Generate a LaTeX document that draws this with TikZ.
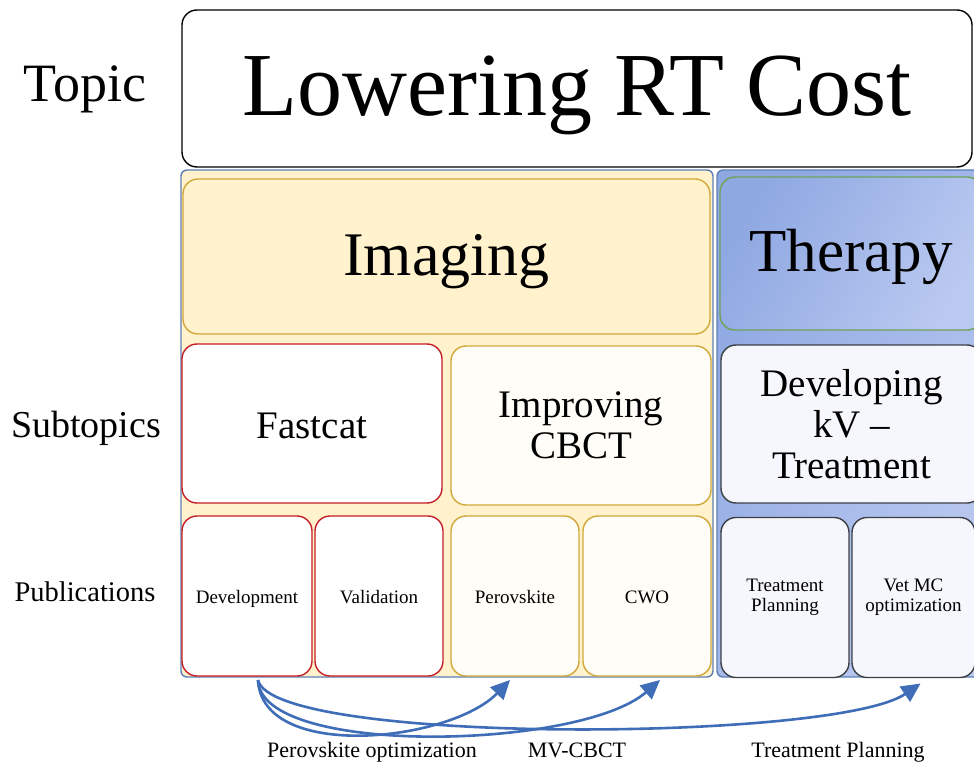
\documentclass[tikz,border=0pt]{standalone}
\usepackage{fontspec}
\setmainfont{Liberation Serif}
\usetikzlibrary{arrows.meta}
\definecolor{imgfill}{HTML}{FFF2CC}
\definecolor{goldline}{HTML}{D1A838}
\definecolor{outerblue}{HTML}{5C7FB5}
\definecolor{redline}{HTML}{C41E26}
\definecolor{goldfill}{HTML}{FFFDF7}
\definecolor{darkline}{HTML}{3C3F44}
\definecolor{kvfill}{HTML}{F6F7FD}
\definecolor{greenline}{HTML}{6FA35A}
\definecolor{thdark}{HTML}{8EA8E2}
\definecolor{thlight}{HTML}{BAC9F0}
\definecolor{arrowblue}{HTML}{3F6DB8}
\tikzset{
  boxbase/.style={draw, line width=1.4pt, inner sep=0pt, outer sep=0pt, align=center, rounded corners=15pt},
  outerbox/.style={draw=outerblue, line width=1.4pt, inner sep=0pt, outer sep=0pt, rounded corners=6pt},
  redbox/.style={boxbase, draw=redline, fill=white},
  goldbox/.style={boxbase, draw=goldline, fill=goldfill},
  darkbox/.style={boxbase, draw=darkline, fill=kvfill},
  subfont/.style={font=\fontsize{39}{41}\selectfont},
  pubfont/.style={font=\fontsize{19}{20}\selectfont},
  pubone/.style={text height=14pt, text depth=0pt},
  sidelabel/.style={inner sep=0pt, anchor=base},
  link/.style={draw=arrowblue, line width=2.6pt, -{Triangle[length=19pt,width=18pt]}},
}
\begin{document}
\begin{tikzpicture}[x=1pt,y=-1pt]
\useasboundingbox (0,0) rectangle (974,767);
% topic
\node[boxbase, draw=black, fill=white, minimum width=790pt, minimum height=157pt, text height=55pt, text depth=0pt, font=\fontsize{90}{90}\selectfont] (topic) at (577,88.5) {Lowering RT Cost};
\node[sidelabel, font=\fontsize{54}{54}\selectfont] (topiclbl) at (85,102) {Topic};
\node[sidelabel, font=\fontsize{38}{38}\selectfont] (sublbl) at (86,437) {Subtopics};
\node[sidelabel, font=\fontsize{28.5}{29}\selectfont] (publbl) at (85,601) {Publications};
% outer containers
\node[outerbox, fill=imgfill, minimum width=532pt, minimum height=507pt] (imgouter) at (447,423.5) {};
\node[outerbox, shading=axis, left color=thdark, right color=thlight, shading angle=60, minimum width=263pt, minimum height=507pt] (therouter) at (848.5,423.5) {};
% headers
\node[boxbase, draw=goldline, fill=imgfill, minimum width=527pt, minimum height=155pt, text height=39pt, text depth=0pt, font=\fontsize{62}{62}\selectfont] (imghead) at (446.5,256.5) {Imaging};
\node[boxbase, draw=greenline, shading=axis, left color=thdark, right color=thlight, shading angle=60, minimum width=262pt, minimum height=153pt, text height=37pt, text depth=0pt, font=\fontsize{61}{61}\selectfont] (therhead) at (851,253.5) {Therapy};
% subtopics
\node[redbox, subfont, minimum width=260pt, minimum height=159pt, text height=29pt, text depth=0pt] (fast) at (312,423.5) {Fastcat};
\node[goldbox, subfont, minimum width=260pt, minimum height=159pt] (cbct) at (581,425.5) {Improving\\CBCT};
\node[darkbox, subfont, minimum width=261pt, minimum height=158pt] (kv) at (851.5,424) {Developing\\kV --\\Treatment};
% publications
\node[redbox, pubfont, pubone, minimum width=130pt, minimum height=160pt] (dev) at (247,596) {Development};
\node[redbox, pubfont, pubone, minimum width=128pt, minimum height=160pt] (val) at (379,596) {Validation};
\node[goldbox, pubfont, pubone, minimum width=128pt, minimum height=160pt] (per) at (515,596) {Perovskite};
\node[goldbox, pubfont, pubone, minimum width=128pt, minimum height=160pt] (cwo) at (647,596) {CWO};
\node[darkbox, pubfont, minimum width=128pt, minimum height=160pt] (tp) at (785,597.5) {Treatment\\Planning};
\node[darkbox, pubfont, minimum width=123pt, minimum height=160pt] (vet) at (913.5,597.5) {Vet MC\\optimization};
% arrows
\coordinate (s) at ([xshift=11pt,yshift=-4pt]dev.south);
\coordinate (tper) at ([xshift=-5pt,yshift=-4pt]per.south);
\coordinate (tcwo) at ([xshift=13pt,yshift=-4pt]cwo.south);
\coordinate (tvet) at ([xshift=7pt,yshift=-6pt]vet.south);
\draw[link] (s) .. controls (262,762) and (450,742) .. (tper);
\draw[link] (s) .. controls (260,757) and (580,750) .. (tcwo);
\draw[link] (s) .. controls (272,745) and (835,742) .. (tvet);
% bottom labels
\node[sidelabel, font=\fontsize{22}{22}\selectfont] (l1) at (372,757) {Perovskite optimization};
\node[sidelabel, font=\fontsize{22}{22}\selectfont] (l2) at (577,757) {MV-CBCT};
\node[sidelabel, font=\fontsize{22}{22}\selectfont] (l3) at (838,757) {Treatment Planning};
\end{tikzpicture}
\end{document}
